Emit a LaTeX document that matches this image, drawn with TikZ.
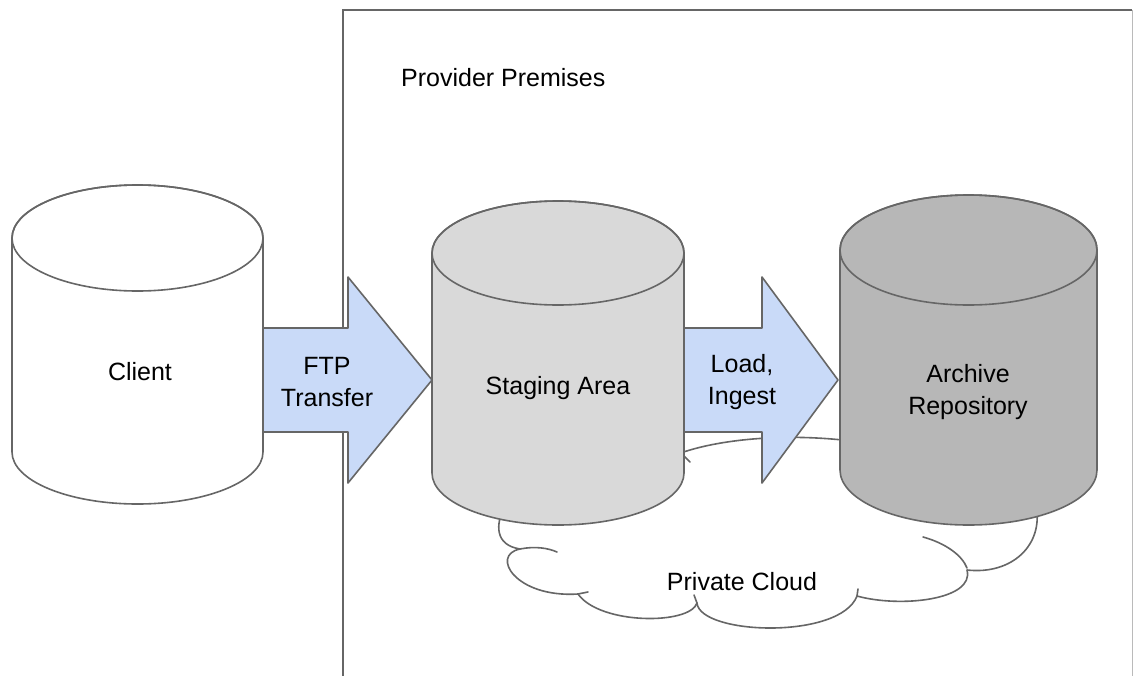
\documentclass[tikz,border=0pt]{standalone}
\usepackage{fontspec}
\setmainfont{Liberation Sans}
\definecolor{edge}{HTML}{666666}
\definecolor{arrowblue}{HTML}{C9DAF8}
\definecolor{stagegray}{HTML}{D9D9D9}
\definecolor{archgray}{HTML}{B7B7B7}
\begin{document}
\begin{tikzpicture}[x=1pt,y=-1pt,
  outline/.style={draw=edge, line width=1.6pt, line join=round},
  lbl/.style={font=\fontsize{25}{32}\selectfont, align=center, text=black, inner sep=0pt},
  blockarrow/.style={outline, fill=arrowblue},
  tick/.style={draw=edge, line width=1.6pt, line cap=round}]
\useasboundingbox (0,0) rectangle (1133,675);
\fill[white] (0,0) rectangle (1133,675);
% provider premises box
\draw[edge, line width=2pt] (343,680) -- (343,10) -- (1132,10);
\draw[edge!45, line width=1pt] (1132,10) -- (1132,680);
\node[lbl, anchor=west] (prov) at (401,78) {Provider Premises};

% private cloud
\path[outline, fill=white] (650,470) .. controls (680,440) and (800,425) .. (900,450)
  -- (1036,505) .. controls (1044,545) and (1012,575) .. (967,570)
  .. controls (975,600) and (900,608) .. (857,596)
  .. controls (840,640) and (700,635) .. (697,603)
  .. controls (690,625) and (600,625) .. (578,594)
  .. controls (515,598) and (490,555) .. (520,549)
  .. controls (495,545) and (495,525) .. (505,505) -- cycle;
\path[tick] (520,549) .. controls (535,546) and (548,548) .. (557,552);
\path[tick] (578,594) -- (588,592);
\path[tick] (697,603) -- (694,595);
\path[tick] (857,596) -- (858,589);
\path[tick] (923,537) .. controls (945,543) and (962,555) .. (967,568);
\path[tick] (684,456) -- (690,462);
\node[lbl] (cloud) at (742,582) {Private Cloud};

% client cylinder
\path[outline, fill=white] (12,238) -- (12,452)
  arc[start angle=180,end angle=360,x radius=125.5pt,y radius=52pt]
  -- (263,238) arc[start angle=0,end angle=180,x radius=125.5pt,y radius=53pt] -- cycle;
\path[outline] (137.5,238) ellipse[x radius=125.5pt, y radius=53pt];
\node[lbl] (client) at (140,372) {Client};

% staging cylinder
\path[outline, fill=stagegray] (432,253) -- (432,473)
  arc[start angle=180,end angle=360,x radius=126pt,y radius=52pt]
  -- (684,253) arc[start angle=0,end angle=180,x radius=126pt,y radius=52pt] -- cycle;
\path[outline] (558,253) ellipse[x radius=126pt, y radius=52pt];
\node[lbl] (staging) at (558,388) {Staging Area};

% archive cylinder
\path[outline, fill=archgray] (840,250) -- (840,470)
  arc[start angle=180,end angle=360,x radius=128.5pt,y radius=55pt]
  -- (1097,250) arc[start angle=0,end angle=180,x radius=128.5pt,y radius=55pt] -- cycle;
\path[outline] (968.5,250) ellipse[x radius=128.5pt, y radius=55pt];
\node[lbl] (archive) at (968,392) {Archive\\Repository};

% block arrows
\path[blockarrow] (263,328) -- (348,328) -- (348,277) -- (432,380) -- (348,483) -- (348,432) -- (263,432) -- cycle;
\node[lbl] (ftp) at (327,382) {FTP\\Transfer};
\path[blockarrow] (684,328) -- (762,328) -- (762,277) -- (838,380) -- (762,483) -- (762,432) -- (684,432) -- cycle;
\node[lbl] (load) at (742,382) {Load,\\Ingest};
\end{tikzpicture}
\end{document}
